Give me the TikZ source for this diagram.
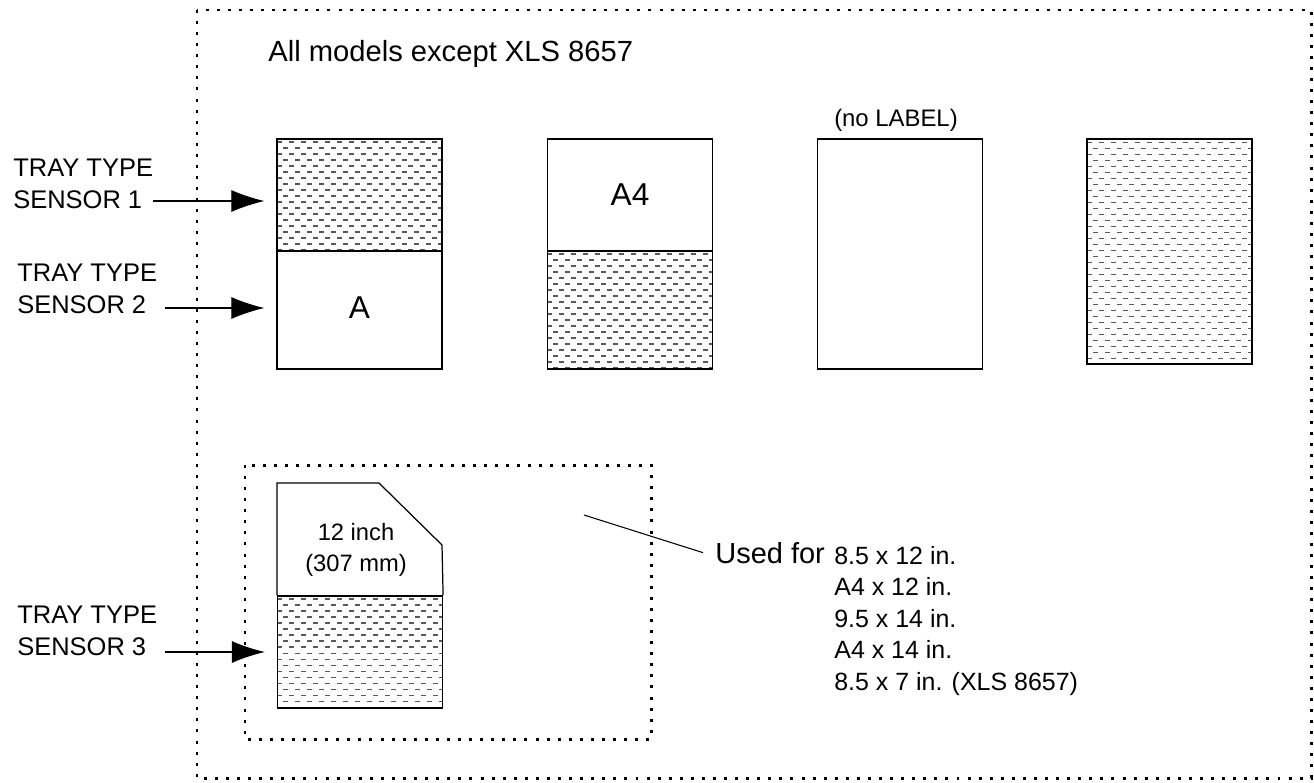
\documentclass[tikz,border=0pt]{standalone}
\usepackage{fontspec}
\setmainfont{Liberation Sans}
\usepackage{tikz}
\usetikzlibrary{arrows.meta, positioning, calc}

\begin{document}
\begin{tikzpicture}[x=0.02cm, y=-0.02cm,
        tray/.style={rectangle, draw, line width=0.7pt, inner sep=0pt, minimum width=3.3cm, align=center, font=\fontsize{18pt}{21pt}\selectfont},
        hatched/.style={path picture={
            \foreach \k in {0,...,38} {
                \pgfmathsetmacro\ph{mod(\k,2)*3.4}
                \draw[black!65, line width=0.6pt, dash pattern=on 2.8pt off 4pt, dash phase=\ph pt]
                    ($(path picture bounding box.north west)+(0,3+\k*6)$) -- ++(200,0);
            }}},
        sensor/.style={align=left, inner sep=0pt, anchor=north west, font=\fontsize{14.5pt}{17.9pt}\selectfont},
        dotbox/.style={line width=1.7pt, dash pattern=on 1.7pt off 4.6pt},
        arrow/.style={-{Latex[length=0.66cm, width=0.44cm]}, line width=0.6pt, shorten >=0.24cm}
    ]
        \useasboundingbox (0,0) rectangle (1314,782);
        % dotted frames
        \draw[dotbox] (197,10) rectangle (1311,778);
        \draw[dotbox] (245,465) rectangle (651,739);
        \node[anchor=base west, inner sep=0pt, font=\fontsize{16.6pt}{19pt}\selectfont] (title) at (268,61) {All models except XLS 8657};

        % trays
        \node[tray, hatched, minimum height=2.24cm] (t1top) at (359.5,195) {};
        \node[tray, minimum height=2.36cm] (t1bot) at (359.5,310) {\raisebox{3pt}{A}};
        \node[tray, minimum height=2.24cm] (t2top) at (630,195) {A4};
        \node[tray, hatched, minimum height=2.36cm] (t2bot) at (630,310) {};
        \node[tray, minimum height=4.6cm] (t3) at (900,254) {};
        \node[anchor=base, inner sep=0pt, font=\fontsize{13.6pt}{16pt}\selectfont] (nolabel) at (896,126) {(no LABEL)};
        \node[tray, hatched, minimum height=4.5cm] (t4) at (1169.5,251.5) {};

        % 12 inch tray
        \node[tray, hatched, minimum height=2.24cm] (t5low) at (360,652) {};
        \draw[line width=0.7pt] (t5low.north west) |- (379,483) -- (442,545) -- (t5low.north east);
        \node[anchor=north, align=center, inner sep=0pt, font=\fontsize{13.5pt}{17.6pt}\selectfont] (t5txt) at (356,523) {12 inch\\(307 mm)};

        % sensor labels
        \node[sensor] (lab1) at (13,159) {TRAY TYPE\\SENSOR 1};
        \node[sensor] (lab2) at (17,264) {TRAY TYPE\\SENSOR 2};
        \node[sensor] (lab3) at (17,606) {TRAY TYPE\\SENSOR 3};
        \coordinate (s1) at (153,201);
        \coordinate (s2) at (165,308);
        \coordinate (s3) at (165,652);
        \draw[arrow] (s1) -- (s1 -| t1top.west);
        \draw[arrow] (s2) -- (s2 -| t1bot.west);
        \draw[arrow] (s3) -- (s3 -| t5low.west);

        % used for
        \coordinate (cut) at (584,515);
        \node[anchor=base west, inner xsep=0.24cm, inner ysep=0pt, font=\fontsize{16.5pt}{19pt}\selectfont] (used) at (703,563) {Used for};
        \draw[line width=0.6pt] (cut) -- (used.west);
        \node[anchor=north west, align=left, inner sep=0pt, font=\fontsize{14.2pt}{17.9pt}\selectfont] (sizes) at (834,546)
            {8.5 x 12 in.\\A4 x 12 in.\\9.5 x 14 in.\\A4 x 14 in.\\8.5 x 7 in. (XLS 8657)};
    \end{tikzpicture}
\end{document}
